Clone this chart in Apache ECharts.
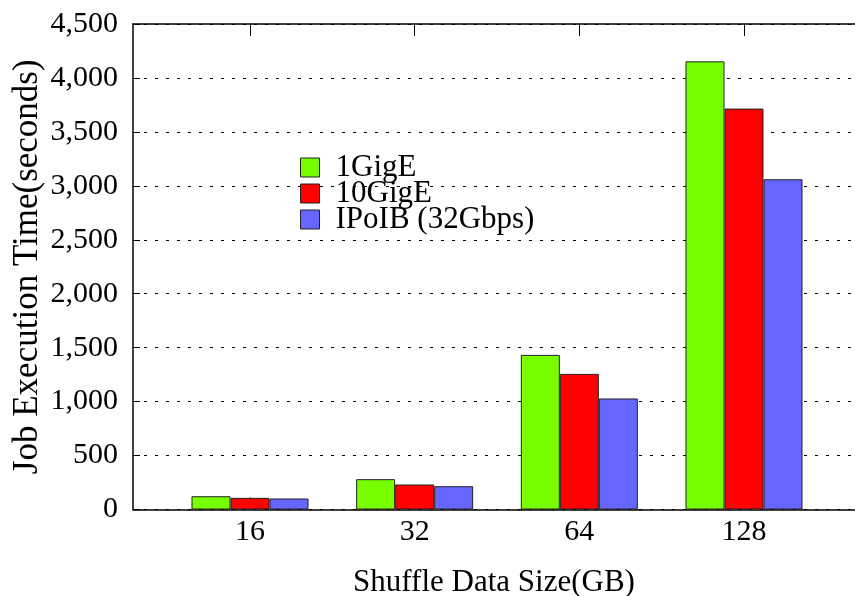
<!DOCTYPE html>
<html>
<head>
<meta charset="utf-8">
<script src="https://cdn.jsdelivr.net/npm/echarts@6/dist/echarts.min.js"></script>
<style>html,body{margin:0;padding:0;background:#fff}#c{width:855px;height:596px}</style>
</head>
<body>
<div id="c"></div>
<script>
const categories = ['16', '32', '64', '128'];
const seriesNames = ['1GigE', '10GigE', 'IPoIB (32Gbps)'];
const gige1 = [123, 281, 1433, 4154];
const gige10 = [108, 232, 1257, 3716];
const ipoib = [102, 216, 1029, 3061];
const yTicks = [0, 500, 1000, 1500, 2000, 2500, 3000, 3500, 4000, 4500];

const FONT = 'Liberation Serif';
const colors = ['#77ff00', '#ff0000', '#6666ff'];
const catIdx = categories.map((c, i) => i);
const toData = arr => arr.map((v, i) => [i, v]);

const chart = echarts.init(document.getElementById('c'), null, {renderer: 'canvas'});
const mkSeries = (name, arr, color) => ({
  name: name, type: 'bar', xAxisIndex: 0, yAxisIndex: 0,
  data: toData(arr), barWidth: 39, barGap: '0%',
  itemStyle: {color: color, borderColor: '#222', borderWidth: 1},
  emphasis: {disabled: true}
});
chart.setOption({
  animation: false,
  grid: {left: 133, top: 24, right: 0, bottom: 86.5, containLabel: false, outerBoundsMode: 'none'},
  legend: {
    orient: 'vertical', left: 300, top: 149, padding: 0,
    itemWidth: 19, itemHeight: 19, itemGap: -11,
    icon: 'rect',
    data: seriesNames,
    textStyle: {fontFamily: FONT, fontSize: 31, color: '#000', lineHeight: 29, padding: [0, 0, 8, 11]},
    itemStyle: {borderColor: '#222', borderWidth: 1}
  },
  xAxis: [{
    type: 'value', min: -0.7105, max: 3.674, position: 'bottom',
    name: 'Shuffle Data Size(GB)', nameLocation: 'middle', nameGap: 58, nameMoveOverlap: false,
    nameTextStyle: {fontFamily: FONT, fontSize: 31, color: '#000'},
    axisLine: {show: true, onZero: false, lineStyle: {color: '#000', width: 1.5}},
    axisTick: {show: true, inside: true, length: 12, customValues: catIdx, lineStyle: {color: '#000'}},
    axisLabel: {customValues: catIdx, formatter: v => categories[Math.round(v)], fontFamily: FONT, fontSize: 30, color: '#000', margin: 8},
    splitLine: {show: false}
  }, {
    type: 'value', min: -0.7105, max: 3.674, position: 'top',
    axisLine: {show: true, onZero: false, lineStyle: {color: '#000', width: 1.5}},
    axisTick: {show: true, inside: true, length: 12, customValues: catIdx, lineStyle: {color: '#000'}},
    axisLabel: {show: false},
    splitLine: {show: false}
  }],
  yAxis: {
    type: 'value', min: 0, max: 4500, interval: 500,
    name: 'Job Execution Time(seconds)', nameLocation: 'middle', nameGap: 88, nameMoveOverlap: false,
    nameTextStyle: {fontFamily: FONT, fontSize: 35, color: '#000'},
    axisLine: {show: true, onZero: false, lineStyle: {color: '#000', width: 1.5}},
    axisTick: {show: true, inside: true, length: 7, lineStyle: {color: '#000'}},
    axisLabel: {fontFamily: FONT, fontSize: 30, color: '#000', margin: 15,
      formatter: v => yTicks.includes(v) ? v.toLocaleString('en-US') : ''},
    splitLine: {show: true, lineStyle: {color: '#000', width: 1, type: [3, 8]}}
  },
  series: [
    mkSeries(seriesNames[0], gige1, colors[0]),
    mkSeries(seriesNames[1], gige10, colors[1]),
    mkSeries(seriesNames[2], ipoib, colors[2])
  ]
});
</script>
</body>
</html>
